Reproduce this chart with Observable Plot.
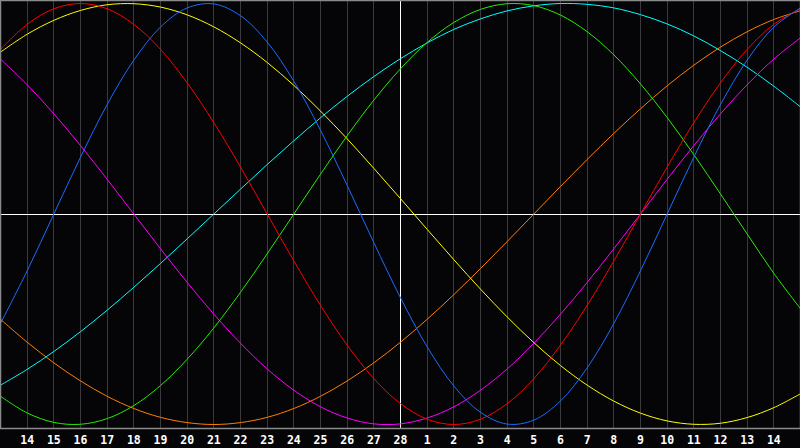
<!DOCTYPE html>
<html>
<head>
<meta charset="utf-8">
<script src="https://cdn.jsdelivr.net/npm/d3@7"></script>
<script src="https://cdn.jsdelivr.net/npm/@observablehq/plot@0.6"></script>
<style>
  html, body { margin: 0; padding: 0; background: #000; }
  #chart svg { display: block; background: #050508; }
</style>
</head>
<body>
<div id="chart"></div>
<script>
// day labels at gridlines 1..29 (gridline 0 = 13 Feb, 30 = 15 Mar)
const dayLabels = ["14","15","16","17","18","19","20","21","22","23","24","25","26","27","28",
                   "1","2","3","4","5","6","7","8","9","10","11","12","13","14"];
const todayIndex = 15;

// values read at each day gridline (index 0..30)
const physical = [-0.520,-0.270,0,0.270,0.520,0.731,0.888,0.979,0.998,0.942,0.817,0.631,0.398,0.136,-0.136,-0.398,-0.631,-0.817,-0.942,-0.998,-0.979,-0.888,-0.731,-0.520,-0.270,0,0.270,0.520,0.731,0.888,0.979];
const emotional = [0.782,0.901,0.975,1.000,0.975,0.901,0.782,0.623,0.434,0.223,0,-0.223,-0.434,-0.623,-0.782,-0.901,-0.975,-1.000,-0.975,-0.901,-0.782,-0.623,-0.434,-0.223,0,0.223,0.434,0.623,0.782,0.901,0.975];
const intellectual = [-0.866,-0.945,-0.990,-0.999,-0.972,-0.910,-0.815,-0.690,-0.541,-0.372,-0.189,0,0.189,0.372,0.541,0.690,0.815,0.910,0.972,0.999,0.990,0.945,0.866,0.756,0.618,0.458,0.282,0.095,-0.095,-0.282,-0.450];
const intuitive = [0.736,0.614,0.476,0.325,0.165,0,-0.165,-0.325,-0.476,-0.614,-0.736,-0.837,-0.916,-0.969,-0.997,-0.997,-0.969,-0.916,-0.837,-0.736,-0.614,-0.476,-0.325,-0.165,0,0.165,0.325,0.476,0.614,0.736,0.837];
const aesthetic = [0.769,0.854,0.920,0.967,0.994,0.999,0.983,0.946,0.889,0.813,0.720,0.611,0.489,0.357,0.217,0.073,-0.073,-0.217,-0.357,-0.489,-0.611,-0.720,-0.813,-0.889,-0.946,-0.983,-0.999,-0.994,-0.967,-0.920,-0.854];
const awareness = [-0.500,-0.609,-0.707,-0.793,-0.866,-0.924,-0.966,-0.991,-1.000,-0.991,-0.966,-0.924,-0.866,-0.793,-0.707,-0.609,-0.500,-0.383,-0.259,-0.131,0,0.131,0.259,0.383,0.500,0.609,0.707,0.793,0.866,0.924,0.966];
const spiritual = [-0.813,-0.738,-0.653,-0.559,-0.457,-0.348,-0.235,-0.118,0,0.118,0.235,0.348,0.457,0.559,0.653,0.738,0.813,0.877,0.927,0.965,0.989,1.000,0.996,0.979,0.947,0.903,0.846,0.776,0.697,0.607,0.509];

const seriesNames = ["Spiritual","Awareness","Aesthetic","Intuitive","Intellectual","Emotional","Physical"];
const seriesValues = [spiritual, awareness, aesthetic, intuitive, intellectual, emotional, physical];
const seriesColors = ["#00ffff","#ff8000","#ffff00","#ff00ff","#22ee00","#ff0000","#1a6cff"];

const rows = seriesNames.flatMap((name, i) =>
  seriesValues[i].map((v, k) => ({k, v, name})));

const gridIdx = d3.range(1, dayLabels.length + 1);

const chart = Plot.plot({
  width: 800,
  height: 448,
  marginLeft: 0,
  marginRight: 0,
  marginTop: 0,
  marginBottom: 20,
  style: {background: "#050508"},
  x: {domain: [0, 30], range: [0, 800], axis: null},
  y: {domain: [-1, 1], range: [424, 3], axis: null},
  color: {domain: seriesNames, range: seriesColors},
  marks: [
    Plot.ruleX(gridIdx, {stroke: "#3a3a3e", strokeWidth: 1, shapeRendering: "crispEdges"}),
    Plot.ruleX([todayIndex], {stroke: "#ffffff", strokeWidth: 1, shapeRendering: "crispEdges"}),
    Plot.ruleY([0], {stroke: "#ffffff", strokeWidth: 1, shapeRendering: "crispEdges"}),
    Plot.line(rows, {x: "k", y: "v", z: "name", stroke: "name", strokeWidth: 1, curve: "catmull-rom"}),
    Plot.frame({stroke: "#8a8a8a", strokeWidth: 1.5}),
    Plot.axisX(gridIdx, {
      tickSize: 0,
      tickPadding: 7,
      tickFormat: k => dayLabels[k - 1],
      fill: "#ffffff",
      fontSize: 11.5,
      fontWeight: "bold",
      fontFamily: "DejaVu Sans Mono",
      label: null
    })
  ]
});
document.getElementById("chart").appendChild(chart);
</script>
</body>
</html>
